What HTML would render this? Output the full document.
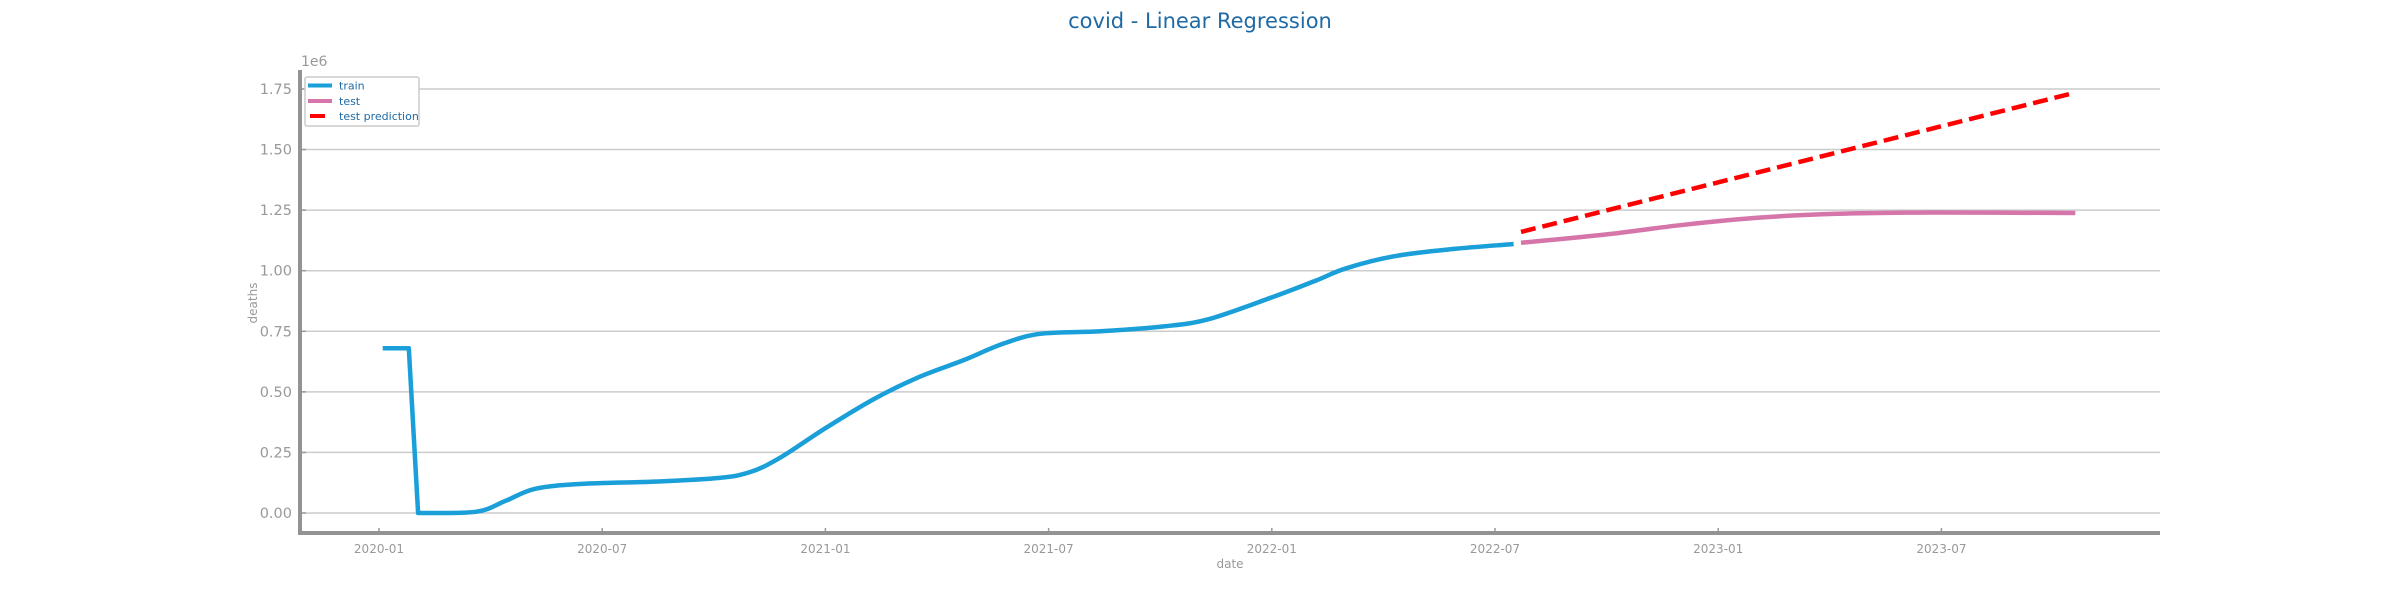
<!DOCTYPE html>
<html><head><meta charset="utf-8"><style>
body{margin:0;background:#fff;}
svg{display:block;font-family:"DejaVu Sans","Liberation Sans",sans-serif;}
</style></head><body>
<svg id="chart" width="2400" height="600" viewBox="0 0 2400 600">
<text x="1200" y="28" text-anchor="middle" font-size="21" fill="#1f6aa5">covid - Linear Regression</text>
<g id="grid"></g>
<g id="axes"></g>
<g id="series"></g>
<text transform="translate(257,303) rotate(-90)" text-anchor="middle" font-size="12" fill="#999">deaths</text>
<text x="1230" y="568" text-anchor="middle" font-size="12" fill="#999">date</text>
<text x="301" y="66" font-size="14" fill="#999">1e6</text>
<g>
<rect x="305" y="77" width="114" height="49" rx="2" fill="#fff" stroke="#ccc" stroke-width="1.5"/>
<line x1="308" y1="85.5" x2="332" y2="85.5" stroke="#1a9fd9" stroke-width="4"/>
<text x="339" y="89.5" font-size="11" fill="#1f6aa5">train</text>
<line x1="308" y1="101" x2="332" y2="101" stroke="#d575aa" stroke-width="4"/>
<text x="339" y="105" font-size="11" fill="#1f6aa5">test</text>
<line x1="310" y1="116" x2="325" y2="116" stroke="#ff0000" stroke-width="4"/>
<text x="339" y="120" font-size="11" fill="#1f6aa5">test prediction</text>
</g>
</svg>
<script>
// month index from 2020-01
const trainMonths=[0.1,0.8,1.05,2.6,3.4,4.2,5.45,7.5,9.15,10,10.8,12,13.3,14.5,15.7,16.8,17.8,19.4,21.1,22.3,24,25.2,26,27.3,28.9,30.5];
const trainValues=[0.68,0.68,0.0,0.005,0.05,0.10,0.12,0.13,0.145,0.17,0.23,0.35,0.47,0.56,0.63,0.70,0.74,0.75,0.77,0.80,0.89,0.96,1.01,1.06,1.09,1.11];
const testMonths=[30.7,33,35.1,37.2,39.2,41.7,45.6];
const testValues=[1.115,1.15,1.19,1.22,1.235,1.24,1.238];
const predMonths=[30.7,45.6];
const predValues=[1.16,1.735];
const yTicks=[0,0.25,0.5,0.75,1.0,1.25,1.5,1.75];
const yTickLabels=["0.00","0.25","0.50","0.75","1.00","1.25","1.50","1.75"];
const xTicks=[0,6,12,18,24,30,36,42];
const xTickLabels=["2020-01","2020-07","2021-01","2021-07","2022-01","2022-07","2023-01","2023-07"];

const NS="http://www.w3.org/2000/svg";
const X=m=>379+m*37.2;
const Y=v=>513-v*242.3;
function mk(tag,attrs,parent){const e=document.createElementNS(NS,tag);for(const k in attrs)e.setAttribute(k,attrs[k]);parent.appendChild(e);return e;}
const grid=document.getElementById('grid'),axes=document.getElementById('axes'),series=document.getElementById('series');
yTicks.forEach((v,i)=>{
 const l=mk('line',{x1:300,x2:2160,y1:Y(v),y2:Y(v),stroke:'#cccccc','stroke-width':1.5},grid);
 
 
 const t=mk('text',{x:292,y:Y(v)+5,'text-anchor':'end','font-size':14.5,fill:'#999'},axes);
 t.textContent=yTickLabels[i];
 
 
 mk('line',{x1:300,x2:306,y1:Y(v),y2:Y(v),stroke:'#999','stroke-width':1.5},axes);
});
xTicks.forEach((m,i)=>{
 mk('line',{x1:X(m),x2:X(m),y1:533,y2:528,stroke:'#999','stroke-width':1.5},axes);
 const t=mk('text',{x:X(m),y:553,'text-anchor':'middle','font-size':12,fill:'#999'},axes);
 t.textContent=xTickLabels[i];
 
 
});
const ys=mk('line',{x1:300,x2:300,y1:70,y2:535,stroke:'#939393','stroke-width':4},axes);


const xs=mk('line',{x1:298,x2:2160,y1:533,y2:533,stroke:'#939393','stroke-width':4},axes);


// linear up to index `lin`, Catmull-Rom smooth after
function path(ms,vs,lin){
 const p=ms.map((m,i)=>[X(m),Y(vs[i])]);
 let d='M'+p[0][0].toFixed(1)+','+p[0][1].toFixed(1);
 for(let i=1;i<p.length;i++){
  if(i<=lin){d+=' L'+p[i][0].toFixed(1)+','+p[i][1].toFixed(1);continue;}
  const p0=p[Math.max(i-2,lin)],p1=p[i-1],p2=p[i],p3=p[Math.min(i+1,p.length-1)];
  const c1=[p1[0]+(p2[0]-p0[0])/6,p1[1]+(p2[1]-p0[1])/6];
  const c2=[p2[0]-(p3[0]-p1[0])/6,p2[1]-(p3[1]-p1[1])/6];
  d+=' C'+c1.map(v=>v.toFixed(1)).join(',')+' '+c2.map(v=>v.toFixed(1)).join(',')+' '+p2[0].toFixed(1)+','+p2[1].toFixed(1);
 }
 return d;
}
const tr=mk('path',{d:path(trainMonths,trainValues,2),fill:'none',stroke:'#1a9fd9','stroke-width':4.5,'stroke-linejoin':'round'},series);


const te=mk('path',{d:path(testMonths,testValues,0),fill:'none',stroke:'#d575aa','stroke-width':4.5,'stroke-linejoin':'round'},series);


const pr=mk('path',{d:path(predMonths,predValues,1),fill:'none',stroke:'#ff0000','stroke-width':4.5,'stroke-dasharray':'15 7'},series);


</script>
</body></html>
